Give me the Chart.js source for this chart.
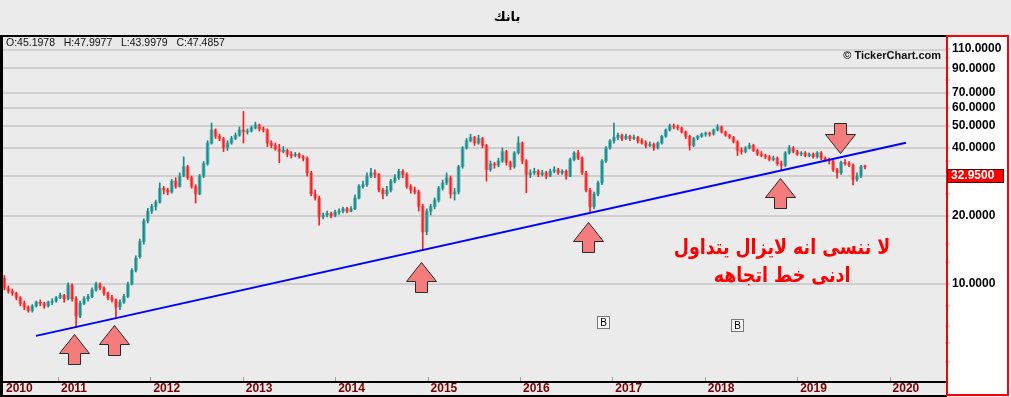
<!DOCTYPE html>
<html>
<head>
<meta charset="utf-8">
<script src="https://cdn.jsdelivr.net/npm/chart.js@4.4.1/dist/chart.umd.min.js"></script>
<style>
  html, body { margin: 0; padding: 0; background: #ebebeb; overflow: hidden; }
  canvas { display: block; }
</style>
</head>
<body>
<canvas id="chart" width="1011" height="397"></canvas>
<script>
// bougies ~ toutes les deux semaines
const opens = [
  10.6, 9.6, 9.3, 9.1, 8.7, 8.2, 7.9, 7.6, 8.0, 8.3,
  8.2, 8.0, 8.3, 8.4, 8.7, 8.9, 8.6, 9.9, 8.6, 7.2,
  8.2, 8.6, 8.8, 9.4, 10.0, 9.6, 9.1, 8.7, 8.5, 7.9,
  8.3, 8.8, 10.0, 11.5, 13.2, 15.4, 19.0, 21.0, 22.0, 23.0,
  26.5, 26.0, 25.5, 28.5, 27.0, 30.0, 33.0, 29.5, 27.0, 25.0,
  30.0, 34.0, 42.0, 48.0, 45.0, 44.0, 40.0, 42.0, 44.0, 45.5,
  48.0, 47.0, 47.5, 49.0, 50.5, 48.5, 48.0, 42.0, 41.0, 39.5,
  38.5, 39.0, 37.5, 37.0, 37.5, 36.5, 36.0, 31.0, 25.0, 24.0,
  19.8, 20.2, 20.5, 20.0, 20.8, 21.0, 21.5, 21.0, 21.5, 24.0,
  27.0, 27.5, 30.0, 31.0, 30.5, 26.0, 25.0, 26.0, 28.5, 29.5,
  31.5, 30.5, 27.0, 26.0, 25.5, 22.0, 17.0, 21.0, 22.0, 23.5,
  26.5, 28.0, 29.5, 25.0, 25.5, 33.0, 40.0, 43.0, 44.5, 42.0,
  44.0, 41.0, 32.0, 34.0, 33.5, 35.0, 38.5, 34.5, 33.0, 38.0,
  42.0, 35.0, 30.5, 31.0, 31.5, 30.5, 31.0, 30.0, 31.5, 32.0,
  31.0, 31.5, 30.0, 35.5, 38.0, 36.0, 31.0, 26.0, 22.0, 25.0,
  28.0, 35.0, 40.0, 43.0, 44.5, 45.5, 44.0, 45.0, 44.0, 44.5,
  43.0, 42.0, 41.0, 41.5, 40.0, 42.0, 45.0, 48.0, 50.0, 49.5,
  49.0, 47.0, 45.0, 41.0, 44.0, 45.0, 46.0, 46.5, 46.0, 48.0,
  49.5, 47.0, 45.5, 44.5, 42.5, 39.0, 38.5, 40.0, 41.0, 39.0,
  37.5, 37.0, 36.5, 35.5, 36.0, 34.0, 33.5, 38.0, 40.0, 38.5,
  37.5, 38.0, 37.0, 37.5, 36.5, 38.0, 36.0, 35.5, 35.0, 32.0,
  31.0, 34.5, 34.0, 33.5, 29.0, 30.0, 33.0
];
const highs = [
  10.9, 9.8, 9.5, 9.2, 8.8, 8.4, 8.0, 8.1, 8.4, 8.5,
  8.3, 8.4, 8.6, 8.8, 9.1, 9.0, 10.1, 10.0, 8.8, 8.4,
  8.8, 9.0, 9.6, 10.2, 10.1, 9.7, 9.2, 8.9, 8.6, 8.5,
  9.0, 10.2, 11.7, 13.3, 15.8, 19.4, 21.6, 22.5, 23.5, 28.0,
  27.0, 26.5, 29.0, 29.5, 31.0, 36.5, 33.5, 30.0, 27.5, 30.5,
  34.8, 43.0, 51.5, 48.5, 46.0, 44.5, 43.0, 45.0, 46.5, 49.5,
  58.0, 48.5, 50.0, 52.0, 51.0, 49.5, 48.5, 43.0, 42.0, 41.5,
  40.5, 39.5, 38.5, 38.2, 38.0, 37.0, 36.5, 31.5, 26.0, 24.5,
  20.6, 21.0, 20.8, 21.2, 21.5, 21.8, 21.8, 22.0, 24.8, 27.5,
  28.5, 31.0, 32.5, 32.0, 30.8, 26.5, 27.0, 29.0, 30.5, 32.2,
  32.0, 31.0, 27.5, 26.8, 26.0, 22.5, 21.5, 22.5, 24.0, 27.0,
  28.8, 31.0, 30.0, 26.5, 33.5, 40.5, 44.0, 46.0, 45.0, 45.5,
  44.5, 41.5, 35.0, 34.5, 36.0, 40.0, 39.0, 35.0, 38.5, 44.8,
  42.5, 35.5, 32.0, 32.5, 32.0, 31.8, 31.5, 32.2, 33.0, 32.5,
  32.0, 32.0, 36.0, 38.5, 39.0, 36.5, 31.5, 26.5, 25.5, 28.5,
  35.5, 40.5, 43.5, 51.5, 46.5, 46.0, 46.0, 45.5, 45.5, 45.0,
  44.0, 43.0, 42.5, 42.0, 42.5, 45.5, 48.5, 51.0, 51.0, 50.5,
  49.5, 47.5, 45.5, 44.5, 45.5, 46.5, 47.0, 47.0, 48.5, 50.7,
  50.0, 47.5, 46.0, 45.0, 43.0, 40.0, 40.5, 42.0, 41.5, 39.5,
  38.5, 37.5, 37.0, 36.8, 36.5, 35.0, 38.5, 41.0, 40.5, 39.0,
  38.5, 38.5, 38.0, 38.0, 38.5, 38.5, 36.5, 36.0, 35.5, 32.5,
  35.0, 35.5, 34.8, 34.0, 31.0, 33.5, 33.6
];
const lows = [
  9.4, 9.1, 8.9, 8.5, 8.0, 7.7, 7.5, 7.5, 7.9, 8.0,
  7.8, 7.9, 8.1, 8.3, 8.6, 8.3, 8.5, 8.4, 6.4, 7.1,
  8.1, 8.4, 8.7, 9.3, 9.4, 8.9, 8.5, 8.3, 7.15, 7.7,
  8.2, 8.7, 9.9, 11.3, 13.0, 15.0, 18.6, 20.5, 21.2, 22.8,
  25.0, 24.8, 25.2, 26.5, 26.8, 29.8, 29.0, 26.5, 22.8, 24.8,
  29.5, 33.5, 41.5, 44.0, 43.0, 38.5, 39.0, 41.5, 43.5, 45.0,
  42.0, 46.0, 47.0, 48.5, 47.5, 47.0, 40.5, 40.0, 39.0, 34.4,
  38.0, 36.5, 36.0, 36.5, 36.0, 35.0, 30.0, 24.5, 23.5, 18.2,
  19.4, 19.8, 19.6, 19.8, 20.3, 20.6, 20.6, 20.8, 21.3, 23.8,
  26.5, 27.0, 29.5, 29.5, 25.5, 23.8, 24.5, 25.5, 28.0, 29.0,
  29.5, 26.5, 25.2, 25.0, 21.0, 14.1, 16.5, 20.2, 21.5, 23.0,
  26.0, 27.5, 24.0, 23.5, 25.0, 32.5, 39.5, 42.5, 41.0, 41.5,
  40.0, 28.5, 31.5, 32.5, 33.0, 34.5, 33.5, 32.0, 32.5, 37.5,
  34.0, 25.3, 29.5, 30.5, 29.8, 30.0, 29.2, 29.8, 31.0, 30.5,
  30.5, 29.0, 29.8, 35.0, 35.5, 30.5, 25.5, 20.6, 21.5, 24.5,
  27.5, 34.5, 39.5, 42.0, 43.5, 43.0, 43.5, 43.0, 43.5, 42.0,
  41.5, 40.0, 40.5, 39.0, 39.5, 41.5, 44.5, 47.5, 48.5, 48.0,
  46.5, 44.0, 39.1, 40.5, 43.5, 44.5, 45.0, 45.0, 45.5, 47.5,
  46.5, 45.0, 44.0, 42.0, 37.0, 37.5, 38.0, 39.5, 38.5, 37.0,
  36.5, 35.8, 35.0, 35.0, 33.5, 31.8, 33.0, 37.5, 38.0, 37.0,
  37.0, 36.5, 36.5, 36.0, 36.0, 35.5, 35.0, 34.0, 31.5, 29.4,
  30.5, 33.5, 33.0, 27.4, 28.5, 29.5, 32.3
];
const closes = [
  9.6, 9.3, 9.1, 8.7, 8.2, 7.9, 7.6, 8.0, 8.3, 8.2,
  8.0, 8.3, 8.4, 8.7, 8.9, 8.6, 9.9, 8.6, 7.2, 8.2,
  8.6, 8.8, 9.4, 10.0, 9.6, 9.1, 8.7, 8.5, 7.9, 8.3,
  8.8, 10.0, 11.5, 13.0, 15.4, 19.0, 21.0, 22.0, 23.0, 26.5,
  26.0, 25.5, 28.5, 27.0, 30.0, 33.0, 29.5, 27.0, 25.0, 30.0,
  34.0, 42.0, 48.0, 45.0, 44.0, 40.0, 42.0, 44.0, 45.5, 48.0,
  47.0, 47.5, 49.0, 50.5, 48.5, 48.0, 42.0, 41.0, 39.5, 38.5,
  39.0, 37.5, 37.0, 37.5, 36.5, 36.0, 31.0, 25.0, 24.0, 19.8,
  20.2, 20.5, 20.0, 20.8, 21.0, 21.5, 21.0, 21.5, 24.0, 27.0,
  27.5, 30.0, 31.0, 30.5, 26.0, 25.0, 26.0, 28.5, 29.5, 31.5,
  30.5, 27.0, 26.0, 25.5, 22.0, 17.0, 21.0, 22.0, 23.5, 26.5,
  28.0, 29.5, 25.0, 25.5, 33.0, 40.0, 43.0, 44.5, 42.0, 44.0,
  41.0, 32.0, 34.0, 33.5, 35.0, 38.5, 34.5, 33.0, 38.0, 42.0,
  35.0, 30.5, 31.0, 31.5, 30.5, 31.0, 30.0, 31.5, 32.0, 31.0,
  31.5, 30.0, 35.5, 38.0, 36.0, 31.0, 26.0, 22.0, 25.0, 28.0,
  35.0, 40.0, 43.0, 44.5, 45.5, 44.0, 45.0, 44.0, 44.5, 43.0,
  42.0, 41.0, 41.5, 40.0, 42.0, 45.0, 48.0, 50.0, 49.5, 49.0,
  47.0, 45.0, 41.0, 44.0, 45.0, 46.0, 46.5, 46.0, 48.0, 49.5,
  47.0, 45.5, 44.5, 42.5, 39.0, 38.5, 40.0, 41.0, 39.0, 37.5,
  37.0, 36.5, 35.5, 36.0, 34.0, 33.5, 38.0, 40.0, 38.5, 37.5,
  38.0, 37.0, 37.5, 36.5, 38.0, 36.0, 35.5, 35.0, 32.0, 31.0,
  34.5, 34.0, 33.5, 29.0, 30.0, 33.0, 32.95
];
const firstDate = 2010.42;   // annee decimale de la premiere bougie
const stepYears = 0.04312;   // ~2 semaines

// ligne de tendance (deux points)
const trendDates = [2010.762, 2020.178];
const trendValues = [5.89, 42.1];

// axes
const yearTicks = [2010.405, 2011, 2012, 2013, 2014, 2015, 2016, 2017, 2018, 2019, 2020];
const yearLabels = ['2010', '2011', '2012', '2013', '2014', '2015', '2016', '2017', '2018', '2019', '2020'];
const priceTicks = [10, 20, 30, 40, 50, 60, 70, 90, 110];
const minorTicks = [4.5, 5.5, 6.5, 8, 12.5, 15, 25, 35, 80, 100];

// annotations
const arrowDates = [2011.173, 2011.606, 2014.929, 2016.736, 2018.814, 2019.463];
const arrowPrices = [6.0, 6.6, 12.5, 18.8, 29.5, 37.9];
const arrowUp = [true, true, true, true, true, false];
const markerDates = [2016.899, 2018.349];
const markerPrices = [6.79, 6.59];
const noteLines = ['لا ننسى انه لايزال يتداول', 'ادنى خط اتجاهه'];
const noteDate = 2018.836;
const notePrices = [14.4, 10.8];

const dates = closes.map((c, i) => +(firstDate + i * stepYears).toFixed(4));
const isUp = closes.map((c, i) => c >= opens[i]);

const upBody = '#66b6b6', upWick = '#178a8a', downBody = '#f47c7c', downWick = '#ff1c1c';

const decor = {
    id: 'decor',
    beforeDraw(chart) {
        const { ctx, chartArea: a } = chart;
        ctx.save();
        ctx.fillStyle = '#ebebeb';
        ctx.fillRect(0, 0, chart.width, chart.height);
        ctx.fillStyle = '#ffffff';
        ctx.fillRect(a.right + 2, a.top - 1, chart.width - a.right - 5, chart.height - a.top - 1);
        ctx.restore();
    },
    afterDraw(chart) {
        const { ctx, chartArea: a, scales } = chart;
        const xs = scales.x, ys = scales.y;
        ctx.save();

        // barre OHLC en haut
        ctx.fillStyle = '#e8e8e8';
        ctx.fillRect(a.left, a.top, a.right - a.left, 14);
        ctx.fillStyle = '#d2d2d2';
        ctx.fillRect(a.left, a.top + 13, a.right - a.left, 2);
        ctx.fillStyle = '#111';
        ctx.font = '10.5px "Liberation Sans", Arial, sans-serif';
        ctx.textBaseline = 'middle';
        ctx.textAlign = 'left';
        ctx.fillText('O:45.1978   H:47.9977   L:43.9979   C:47.4857', a.left + 3, a.top + 7);

        ctx.font = 'bold 11px "Liberation Sans", Arial, sans-serif';
        ctx.textAlign = 'right';
        ctx.fillText('\u00A9 TickerChart.com', a.right - 4, a.top + 20);

        // bordures
        ctx.fillStyle = '#000';
        ctx.fillRect(0, a.top - 1, a.right + 2, 2);
        ctx.fillRect(0, a.top - 1, 3, chart.height - a.top);
        ctx.fillRect(0, a.bottom, a.right + 2, 2);
        ctx.fillRect(0, chart.height - 2, a.right + 2, 2);
        ctx.strokeStyle = '#ff0000';
        ctx.lineWidth = 2;
        ctx.strokeRect(a.right + 2, a.top, chart.width - a.right - 5, chart.height - a.top - 2);

        // petits traits des annees
        ctx.fillStyle = '#a0a0a0';
        yearTicks.slice(1).forEach(v => {
            ctx.fillRect(Math.round(xs.getPixelForValue(v)), a.bottom - 4, 1, 4);
        });

        // fleches
        arrowDates.forEach((d, i) => {
            const x = Math.round(xs.getPixelForValue(d)) + 0.5;
            const y = Math.round(ys.getPixelForValue(arrowPrices[i])) + 0.5;
            const s = arrowUp[i] ? 1 : -1;
            ctx.beginPath();
            ctx.moveTo(x, y);
            ctx.lineTo(x + 15, y + s * 19);
            ctx.lineTo(x + 6, y + s * 19);
            ctx.lineTo(x + 6, y + s * 30);
            ctx.lineTo(x - 6, y + s * 30);
            ctx.lineTo(x - 6, y + s * 19);
            ctx.lineTo(x - 15, y + s * 19);
            ctx.closePath();
            ctx.fillStyle = '#f47c7c';
            ctx.fill();
            ctx.strokeStyle = '#2a2a2a';
            ctx.lineWidth = 1;
            ctx.stroke();
        });

        // marqueurs B
        ctx.font = '10px "Liberation Sans", Arial, sans-serif';
        ctx.textAlign = 'center';
        ctx.textBaseline = 'middle';
        markerDates.forEach((d, i) => {
            const x = Math.round(xs.getPixelForValue(d));
            const y = Math.round(ys.getPixelForValue(markerPrices[i]));
            ctx.fillStyle = '#f6f6f6';
            ctx.fillRect(x - 6, y - 6, 12, 12);
            ctx.strokeStyle = '#7a7a7a';
            ctx.strokeRect(x - 5.5, y - 5.5, 12, 12);
            ctx.fillStyle = '#000';
            ctx.fillText('B', x + 0.5, y + 1);
        });

        // texte rouge (un peu resserre comme l'original)
        ctx.fillStyle = '#ff0000';
        ctx.font = 'bold 21px "DejaVu Sans", sans-serif';
        ctx.direction = 'rtl';
        noteLines.forEach((t, i) => {
            const tx = xs.getPixelForValue(noteDate), ty = ys.getPixelForValue(notePrices[i]);
            ctx.save();
            ctx.translate(tx, ty);
            ctx.scale(0.83, 1);
            ctx.fillText(t, 0, 0);
            ctx.restore();
        });
        ctx.direction = 'ltr';

        // etiquette du dernier cours
        const last = closes[closes.length - 1];
        const ly = Math.round(ys.getPixelForValue(last)) + 2;
        ctx.fillStyle = '#ff0000';
        ctx.fillRect(a.right + 2, ly, 56, 13);
        ctx.strokeStyle = '#5a0000';
        ctx.lineWidth = 1;
        ctx.strokeRect(a.right + 2.5, ly + 0.5, 56, 13);
        ctx.fillStyle = '#ffffff';
        ctx.font = 'bold 12px "Liberation Sans", Arial, sans-serif';
        ctx.textAlign = 'left';
        ctx.fillText(last.toFixed(4), a.right + 6, ly + 7);

        ctx.restore();
    }
};

new Chart(document.getElementById('chart'), {
    type: 'bar',
    data: {
        datasets: [{
            type: 'line',
            label: 'trend',
            data: trendDates.map((d, i) => ({ x: d, y: trendValues[i] })),
            borderColor: '#0000ff',
            borderWidth: 2,
            pointRadius: 0,
            order: 0
        }, {
            label: 'wick',
            data: dates.map((d, i) => ({ x: d, y: [lows[i], highs[i]] })),
            backgroundColor: isUp.map(u => u ? upWick : downWick),
            barThickness: 1,
            grouped: false,
            order: 1
        }, {
            label: 'body',
            data: dates.map((d, i) => ({ x: d, y: [Math.min(opens[i], closes[i]), Math.max(opens[i], closes[i])] })),
            backgroundColor: isUp.map(u => u ? upBody : downBody),
            barThickness: 3,
            minBarLength: 1,
            grouped: false,
            order: 2
        }]
    },
    options: {
        responsive: false,
        animation: false,
        layout: { padding: { left: 3, right: 0, top: 0, bottom: 0 } },
        plugins: {
            legend: { display: false },
            tooltip: { enabled: false },
            title: {
                display: true,
                text: 'بانك',
                color: '#000',
                font: { family: '"DejaVu Sans", sans-serif', size: 13, weight: 'bold', lineHeight: 1.2 },
                padding: { top: 10, bottom: 10.4 }
            }
        },
        scales: {
            x: {
                type: 'linear',
                min: 2010.405,
                max: 2020.6,
                offset: false,
                grid: { display: false, drawTicks: false },
                border: { display: false },
                afterBuildTicks: (s) => { s.ticks = yearTicks.map(v => ({ value: v })); },
                afterFit: (s) => { s.height = 16; },
                ticks: {
                    align: 'start',
                    labelOffset: 3,
                    padding: 2,
                    maxRotation: 0,
                    autoSkip: false,
                    color: '#7a0000',
                    font: { family: '"Liberation Sans Narrow", "Liberation Sans", sans-serif', size: 12, weight: 'bold', lineHeight: 1 },
                    callback: (v, i) => yearLabels[i]
                }
            },
            y: {
                type: 'logarithmic',
                position: 'right',
                min: 3.72,
                max: 125,
                border: { display: false },
                afterBuildTicks: (s) => {
                    s.ticks = priceTicks.concat(minorTicks).sort((p, q) => q - p).map(v => ({ value: v }));
                },
                afterFit: (s) => { s.width = 66; },
                grid: {
                    color: (c) => c.tick && priceTicks.includes(c.tick.value) ? '#cfcfcf' : 'rgba(0,0,0,0)',
                    lineWidth: 2,
                    tickColor: '#a8a8a8',
                    tickWidth: 1,
                    tickLength: 5
                },
                ticks: {
                    padding: 2,
                    color: '#000',
                    autoSkip: false,
                    font: { family: '"Liberation Sans", Arial, sans-serif', size: 12, weight: 'bold' },
                    callback: (v) => priceTicks.includes(v) ? v.toFixed(4) : ''
                }
            }
        }
    },
    plugins: [decor]
});
</script>
</body>
</html>
